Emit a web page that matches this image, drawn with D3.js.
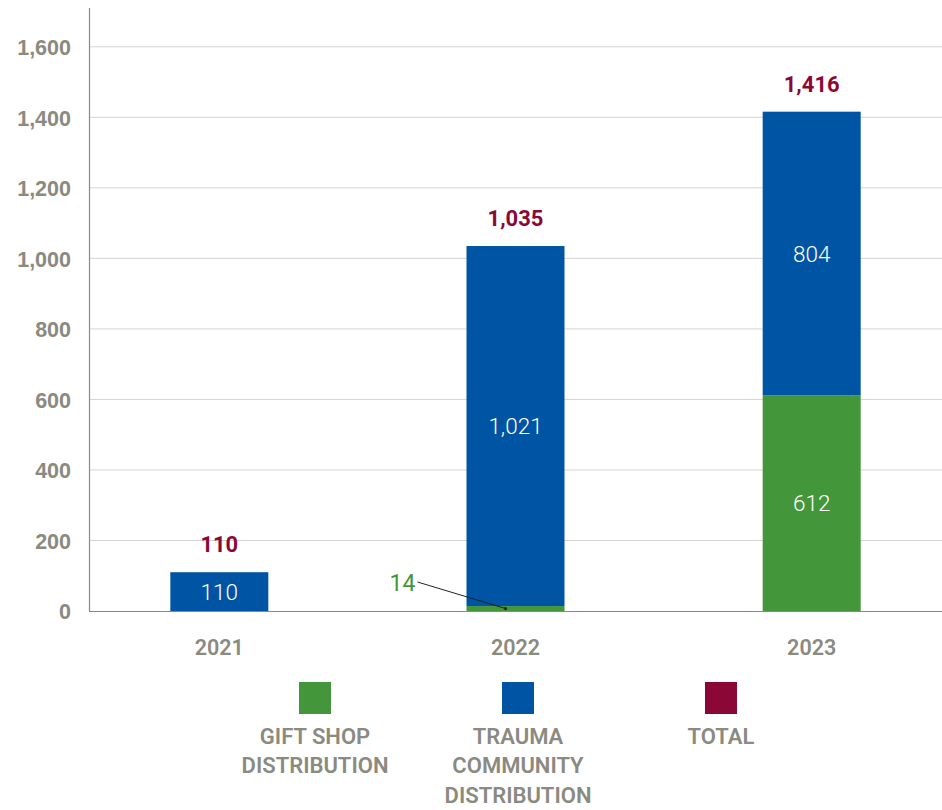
<!DOCTYPE html>
<html>
<head>
<meta charset="utf-8">
<script src="https://cdn.jsdelivr.net/npm/d3@7"></script>
<style>
  html, body { margin: 0; padding: 0; background: #fff; }
  svg { display: block; font-family: Roboto, "Noto Sans", sans-serif; }
</style>
</head>
<body>
<svg id="chart" width="942" height="810"></svg>
<script>
// Distribution counts per year
const years = ["2021", "2022", "2023"];
const giftShop = [0, 14, 612];
const traumaCommunity = [110, 1021, 804];
const totals = [110, 1035, 1416];
const yTicks = [0, 200, 400, 600, 800, 1000, 1200, 1400, 1600];
const legendLabels = [
  ["GIFT SHOP", "DISTRIBUTION"],
  ["TRAUMA", "COMMUNITY", "DISTRIBUTION"],
  ["TOTAL"]
];

const colors = { gift: "#43973a", trauma: "#0054a4", total: "#8b0836" };
const grey = "#8a8a80";

const svg = d3.select("#chart");
const plot = { left: 89, right: 942, top: 8, bottom: 611 };

const y = d3.scaleLinear().domain([0, 1710]).range([plot.bottom, plot.top]);
const x = d3.scalePoint().domain(years).range([plot.left, plot.right]).padding(0.44);
const barW = 98;

// Gridlines
svg.append("g")
  .selectAll("line")
  .data(yTicks.filter(d => d > 0))
  .join("line")
  .attr("x1", plot.left).attr("x2", plot.right)
  .attr("y1", d => y(d)).attr("y2", d => y(d))
  .attr("stroke", "#d4d4d0").attr("stroke-width", 1);

// Y axis
const yAxis = svg.append("g")
  .attr("transform", `translate(${plot.left},0)`)
  .call(d3.axisLeft(y).tickValues(yTicks).tickFormat(d3.format(",")).tickSize(0).tickPadding(18));
yAxis.select(".domain").remove();
yAxis.selectAll("text")
  .attr("fill", grey).attr("font-size", 21.5).attr("font-weight", 600)
  .attr("dy", "0.36em");
svg.append("line")
  .attr("x1", plot.left + 0.5).attr("x2", plot.left + 0.5)
  .attr("y1", plot.top).attr("y2", plot.bottom)
  .attr("stroke", grey).attr("stroke-width", 1.2);

// Stacked bars
const rows = years.map((yr, i) => ({ yr, gift: giftShop[i], trauma: traumaCommunity[i], total: totals[i] }));
const bars = svg.append("g");
bars.selectAll("rect.gift")
  .data(rows.filter(d => d.gift > 0))
  .join("rect").attr("class", "gift")
  .attr("x", d => x(d.yr) - barW / 2).attr("width", barW)
  .attr("y", d => y(d.gift)).attr("height", d => y(0) - y(d.gift))
  .attr("fill", colors.gift);
bars.selectAll("rect.trauma")
  .data(rows)
  .join("rect").attr("class", "trauma")
  .attr("x", d => x(d.yr) - barW / 2).attr("width", barW)
  .attr("y", d => y(d.gift + d.trauma)).attr("height", d => y(d.gift) - y(d.gift + d.trauma))
  .attr("fill", colors.trauma);

// Baseline
svg.append("line")
  .attr("x1", plot.left).attr("x2", plot.right)
  .attr("y1", y(0) + 0.5).attr("y2", y(0) + 0.5)
  .attr("stroke", grey).attr("stroke-width", 1.2);

const fmt = d3.format(",");

// Segment labels (white, inside)
svg.append("g").selectAll("text")
  .data(rows)
  .join("text")
  .attr("x", d => x(d.yr))
  .attr("y", d => (y(d.gift) + y(d.gift + d.trauma)) / 2)
  .attr("dy", "0.36em")
  .attr("text-anchor", "middle")
  .attr("fill", "#fff").attr("font-size", 22.5).attr("font-weight", 300)
  .text(d => fmt(d.trauma));
svg.append("g").selectAll("text")
  .data(rows.filter(d => d.gift > 100))
  .join("text")
  .attr("x", d => x(d.yr))
  .attr("y", d => (y(0) + y(d.gift)) / 2)
  .attr("dy", "0.36em")
  .attr("text-anchor", "middle")
  .attr("fill", "#fff").attr("font-size", 22.5).attr("font-weight", 300)
  .text(d => fmt(d.gift));

// Small gift-shop value with a leader line
const small = rows.filter(d => d.gift > 0 && d.gift <= 100);
const callout = svg.append("g");
callout.selectAll("line")
  .data(small)
  .join("line")
  .attr("x1", d => x(d.yr) - 98).attr("y1", y(0) - 29)
  .attr("x2", d => x(d.yr) - 10).attr("y2", d => y(d.gift / 2))
  .attr("stroke", "#222").attr("stroke-width", 1);
callout.selectAll("circle")
  .data(small)
  .join("circle")
  .attr("cx", d => x(d.yr) - 10).attr("cy", d => y(d.gift / 2))
  .attr("r", 1.6).attr("fill", "#222");
callout.selectAll("text")
  .data(small)
  .join("text")
  .attr("x", d => x(d.yr) - 113).attr("y", y(0) - 28)
  .attr("dy", "0.36em")
  .attr("text-anchor", "middle")
  .attr("fill", colors.gift).attr("font-size", 23).attr("font-weight", 400)
  .text(d => fmt(d.gift));

// Totals above bars
svg.append("g").selectAll("text")
  .data(rows)
  .join("text")
  .attr("x", d => x(d.yr))
  .attr("y", d => y(d.total) - 20)
  .attr("text-anchor", "middle")
  .attr("fill", colors.total).attr("font-size", 22).attr("font-weight", 700)
  .text(d => fmt(d.total));

// X axis labels
svg.append("g").selectAll("text")
  .data(years)
  .join("text")
  .attr("x", d => x(d)).attr("y", 647)
  .attr("dy", "0.36em")
  .attr("text-anchor", "middle")
  .attr("fill", grey).attr("font-size", 21.5).attr("font-weight", 600)
  .text(d => d);

// Legend
const legendColors = [colors.gift, colors.trauma, colors.total];
const lx = d3.scalePoint().domain(d3.range(3)).range([315, 721]);
const lg = svg.append("g").selectAll("g")
  .data(legendLabels)
  .join("g")
  .attr("transform", (d, i) => `translate(${lx(i)},0)`);
lg.append("rect")
  .attr("x", -16).attr("y", 682).attr("width", 32).attr("height", 32)
  .attr("fill", (d, i) => legendColors[i]);
lg.selectAll("text")
  .data(d => d)
  .join("text")
  .attr("x", 0).attr("y", (d, j) => 736 + j * 29.5)
  .attr("dy", "0.36em")
  .attr("text-anchor", "middle")
  .attr("fill", grey).attr("font-size", 22).attr("font-weight", 600)
  .text(d => d);
</script>
</body>
</html>
